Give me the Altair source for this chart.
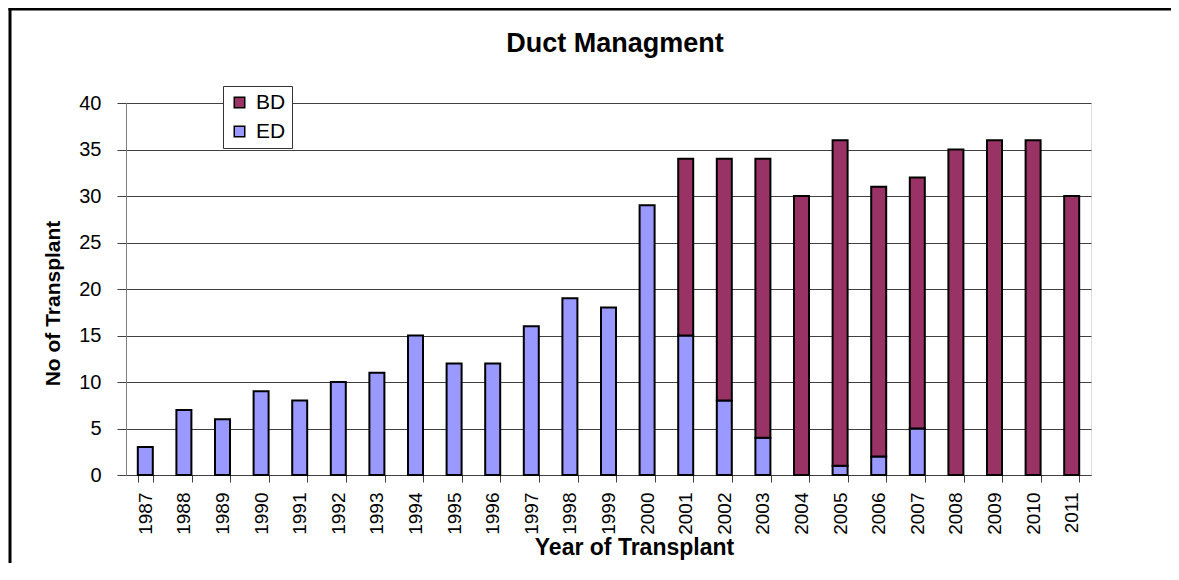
import altair as alt
import pandas as pd

years = [str(y) for y in range(1987, 2012)]
ed_values = [3, 7, 6, 9, 8, 10, 11, 15, 12, 12, 16, 19, 18, 29, 15, 8, 4, 0, 1, 2, 5, 0, 0, 0, 0]
bd_values = [0, 0, 0, 0, 0, 0, 0, 0, 0, 0, 0, 0, 0, 0, 19, 26, 30, 30, 35, 29, 27, 35, 36, 36, 30]
series_names = ["BD", "ED"]
series_colors = ["#993366", "#9999FF"]
chart_title = "Duct Managment"

rows = []
for y, e, b in zip(years, ed_values, bd_values):
    if e > 0:
        rows.append({"year": y, "type": "ED", "value": e, "ord": 0})
    if b > 0:
        rows.append({"year": y, "type": "BD", "value": b, "ord": 1})
df = pd.DataFrame(rows)

W, H = 965, 372
FONT = "Liberation Sans"

bars = alt.Chart(df).mark_bar(size=15, stroke="black", strokeWidth=2).encode(
    x=alt.X("year:N", sort=years, title="Year of Transplant",
            scale=alt.Scale(paddingInner=0.6, paddingOuter=0.3),
            axis=alt.Axis(labelAngle=270, labelAlign="right", labelBaseline="middle",
                          labelFontSize=19, labelFont=FONT, labelColor="black",
                          labelPadding=10, tickBand="extent", tickSize=7,
                          tickColor="#404040", domainColor="#404040",
                          titleFont=FONT, titleFontSize=23, titleFontWeight="bold",
                          titleColor="black", titleX=508, titleY=79,
                          titleBaseline="alphabetic", titleAnchor="start", titleAlign="center")),
    y=alt.Y("value:Q", stack="zero", title="No of Transplant",
            scale=alt.Scale(domain=[0, 40], nice=False),
            axis=alt.Axis(values=[0, 5, 10, 15, 20, 25, 30, 35, 40], grid=True,
                          gridColor="#404040", gridWidth=1,
                          labelFontSize=20, labelFont=FONT, labelColor="black",
                          labelPadding=16, tickSize=9, tickColor="#404040",
                          domainColor="#808080",
                          titleFont=FONT, titleFontSize=21, titleFontWeight="bold",
                          titleColor="black", titleX=-73, titleY=200,
                          titleBaseline="middle", titleAlign="center")),
    color=alt.Color("type:N", title=None,
                    scale=alt.Scale(domain=series_names, range=series_colors),
                    legend=alt.Legend(orient="none", legendX=97, legendY=-17,
                                      symbolType="square", symbolSize=110,
                                      symbolStrokeColor="black", symbolStrokeWidth=1.5,
                                      symbolOpacity=1,
                                      labelFontSize=21, labelFont=FONT, labelColor="black",
                                      labelOffset=6, rowPadding=7,
                                      fillColor="white", strokeColor="#333333",
                                      padding=6)),
    order=alt.Order("ord:Q", sort="ascending"),
)

title_text = alt.Chart(alt.Data(values=[{"t": chart_title}])).mark_text(
    font=FONT, fontSize=27, fontWeight="bold", color="black",
    align="center", baseline="alphabetic"
).encode(
    text="t:N", x=alt.value(489), y=alt.value(-51),
)

frame_top = alt.Chart(alt.Data(values=[{}])).mark_rule(
    stroke="black", strokeWidth=3
).encode(
    x=alt.value(-117.5), x2=alt.value(W + 200),
    y=alt.value(-94),
)
frame_left = alt.Chart(alt.Data(values=[{}])).mark_rule(
    stroke="black", strokeWidth=3
).encode(
    x=alt.value(-116),
    y=alt.value(-95.5), y2=alt.value(H + 200),
)

chart = alt.layer(bars, title_text, frame_top, frame_left).properties(
    width=W, height=H,
    autosize=alt.AutoSizeParams(type="none"),
    padding={"left": 118, "top": 95, "right": 80, "bottom": 88},
).configure_view(fill="#C0C0C0", stroke="#808080", strokeWidth=1.5
).configure(background="white")

chart.save("out.html", embed_options={"renderer": "svg", "actions": False})
